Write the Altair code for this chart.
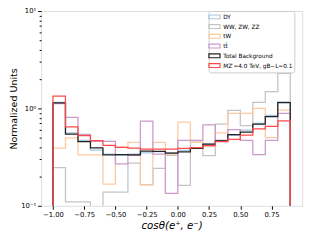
import altair as alt
import pandas as pd

# bin left edges (width 0.1), last right edge 0.9
bin_left = [-1.0, -0.9, -0.8, -0.7, -0.6, -0.5, -0.4, -0.3, -0.2, -0.1,
            0.0, 0.1, 0.2, 0.3, 0.4, 0.5, 0.6, 0.7, 0.8]
bin_right_end = 0.9

series_names = ["DY", "WW, ZW, ZZ", "tW", "tt\u0304", "Total Background",
                "MZ\u2032=4.0 TeV, gB\u2212L=0.1"]
series_colors = ["#a5c8e1", "#c4c4c4", "#ffc9a0", "#cc99cc", "#222222", "#ff4a4a"]

dy = [1.15, 0.56, 0.47, 0.374, 0.34, 0.33, 0.34, 0.35, 0.36, 0.35, 0.37, 0.39,
      0.43, 0.47, 0.53, 0.60, 0.70, 0.85, 1.17]
diboson = [0.246, 0.110, 0.110, 0.0, 0.138, 0.138, 0.275, 0.165, 0.242, 0.33,
           0.162, 0.45, 0.328, 0.69, 0.955, 0.666, 1.156, 1.49, 2.29]
tw = [0.392, 0.497, 0.334, 0.334, 0.167, 0.40, 0.447, 0.164, 0.447, 0.34, 0.724,
      0.447, 0.41, 0.562, 0.891, 0.89, 1.0, 0.5, 0.96]
ttbar = [1.12, 0.81, 0.54, 0.46, 0.46, 0.27, 0.33, 0.741, 0.34, 0.134, 0.471,
         0.471, 0.676, 0.47, 0.607, 0.471, 0.336, 0.47, 0.89]
total = [1.138, 0.545, 0.457, 0.394, 0.334, 0.336, 0.334, 0.365, 0.363, 0.347,
         0.357, 0.389, 0.429, 0.464, 0.537, 0.57, 0.69, 0.824, 1.148]
signal = [1.337, 0.645, 0.525, 0.468, 0.417, 0.398, 0.392, 0.383, 0.383, 0.383,
          0.389, 0.395, 0.414, 0.455, 0.482, 0.532, 0.617, 0.655, 0.746]

all_values = [dy, diboson, tw, ttbar, total, signal]
FLOOR = 1e-3  # empty bins drop below the axis like matplotlib's step outline

rows = []
for name, vals in zip(series_names, all_values):
    edges = bin_left + [bin_right_end]
    k = 0
    rows.append(dict(series=name, x=edges[0], y=FLOOR, k=k)); k += 1
    for i, v in enumerate(vals):
        v = max(v, FLOOR)
        rows.append(dict(series=name, x=edges[i], y=v, k=k)); k += 1
        rows.append(dict(series=name, x=edges[i + 1], y=v, k=k)); k += 1
    rows.append(dict(series=name, x=edges[-1], y=FLOOR, k=k))
df = pd.DataFrame(rows)

font = "DejaVu Sans"
x_ticks = [-1.0, -0.75, -0.5, -0.25, 0.0, 0.25, 0.5, 0.75]
y_ticks = [0.1, 0.2, 0.3, 0.4, 0.5, 0.6, 0.7, 0.8, 0.9,
           1, 2, 3, 4, 5, 6, 7, 8, 9, 10]

color_scale = alt.Scale(domain=series_names, range=series_colors)

layers = []
for idx, name in enumerate(series_names):
    enc = dict(
        x=alt.X("x:Q", scale=alt.Scale(domain=[-1.095, 0.995], nice=False, zero=False),
                axis=alt.Axis(values=x_ticks, title="cos\u03b8(e\u207a, e\u207b)",
                              labelExpr="replace(format(datum.value, '.2f'), '-', '\u2212')",
                              titleFontStyle="italic", titleFontSize=10.5,
                              titleFontWeight="normal", titlePadding=3,
                              labelFontSize=7, labelFont=font, titleFont=font,
                              tickSize=3.5, labelPadding=2, grid=False, domain=False,
                              tickColor="black", labelColor="black", titleColor="black")),
        y=alt.Y("y:Q", scale=alt.Scale(type="log", domain=[0.1, 10], nice=False),
                axis=alt.Axis(values=y_ticks, title="Normalized Units",
                              labelExpr="datum.value == 0.1 ? '10\u207b\u00b9' : (datum.value == 1 ? '10\u2070' : (datum.value == 10 ? '10\u00b9' : ''))",
                              tickSize={"expr": "datum.value == 0.1 || datum.value == 1 || datum.value == 10 ? 3.5 : 2"},
                              titleFontSize=9.8, titleFontWeight="normal", titleFont=font,
                              labelFontSize=7, labelFont=font, labelPadding=2,
                              titlePadding=2, grid=False, domain=False,
                              tickColor="black", labelColor="black", titleColor="black")),
        order=alt.Order("k:Q"),
        color=alt.Color("series:N", scale=color_scale, sort=series_names,
                        legend=alt.Legend(
                            title=None, orient="none", legendX=172, legendY=0,
                            labelFontSize=5.9, labelFont=font, labelColor="black",
                            symbolType="M-1.9,-0.65H1.9V0.65H-1.9Z", symbolSize=36,
                            symbolStrokeWidth=1.2, symbolFillColor="transparent",
                            labelOffset=5, rowPadding=0, padding=2,
                            strokeColor="#cccccc", fillColor="white",
                            cornerRadius=2, labelLimit=200)),
    )
    layer = (alt.Chart(df)
             .transform_filter(alt.datum.series == name)
             .mark_line(strokeWidth=1.3, clip=True, interpolate="linear")
             .encode(**enc))
    layers.append(layer)

chart = (alt.layer(*layers)
         .properties(width=268, height=200,
                     autosize=alt.AutoSizeParams(type="none"),
                     padding={"left": 34, "top": 0, "right": 5, "bottom": 32})
         .configure_view(stroke="black", strokeWidth=0.9)
         .configure(background="white"))

chart.save("out.html", embed_options={"renderer": "svg", "actions": False})
